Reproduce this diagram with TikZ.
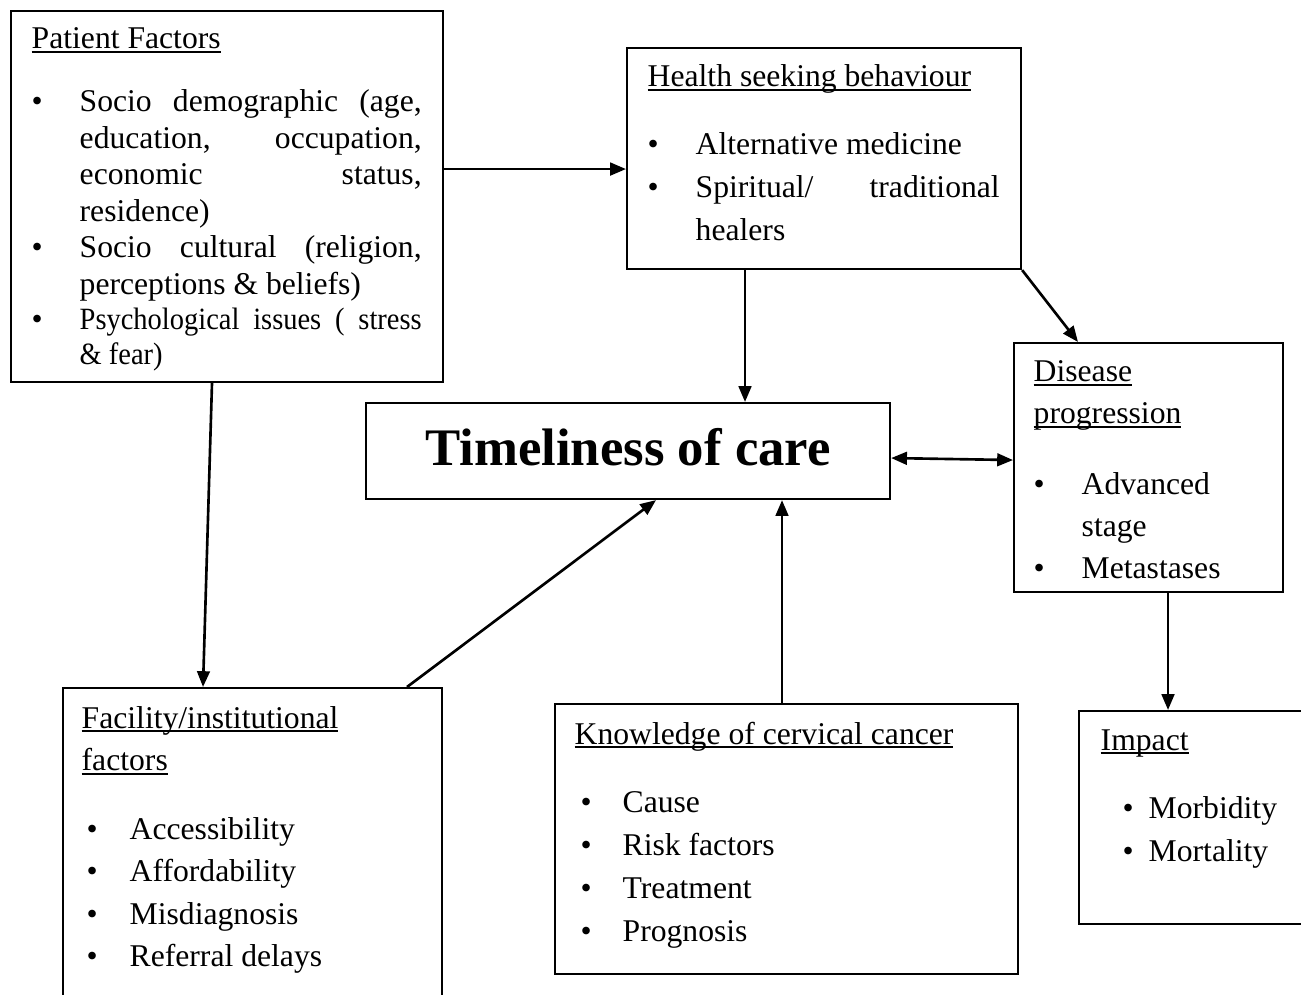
\documentclass[tikz,border=0pt]{standalone}
\usepackage{fontspec}
\setmainfont{Liberation Serif}
\newfontfamily\narrowrm[FakeStretch=0.92]{Liberation Serif}
\usepackage{tikz}
\usetikzlibrary{arrows.meta,positioning,calc}
\newlength{\px}
\setlength{\px}{0.01cm}
\newcommand{\uhd}[1]{\leavevmode\setbox0=\hbox{#1}\rlap{\rule[-1.2pt]{\wd0}{0.5pt}}\box0}
\newcommand{\bul}[1][0pt]{\par\hangindent=48\px\hangafter=1\noindent\makebox[48\px][l]{\hspace{#1}\textbullet}\ignorespaces}

\begin{document}
\begin{tikzpicture}[x=0.01cm, y=-0.01cm,
    box/.style={draw, line width=0.6pt, inner sep=0pt, anchor=north west},
    txt/.style={inner sep=0pt, anchor=base west, align=flush left, font=\fontsize{9pt}{43\px}\selectfont},
    arr/.style={-{Triangle[length=4.5pt, width=3.6pt]}, line width=0.75pt}
]
\useasboundingbox (0,0) rectangle (1301,995);
\clip (0,0) rectangle (1301,995);
\node[box, minimum width=432\px, minimum height=371\px] (pf) at (10,10) {};
\node[box, minimum width=394\px, minimum height=221\px] (hsb) at (626,47) {};
\node[box, minimum width=524\px, minimum height=96\px, text depth=8\px, font=\fontsize{15pt}{18pt}\selectfont\bfseries] (toc) at (365,402) {Timeliness of care};
\node[box, minimum width=269\px, minimum height=249\px] (dp) at (1013,342) {};
\node[box, minimum width=379\px, minimum height=330\px] (fac) at (62,687) {};
\node[box, minimum width=463\px, minimum height=270\px] (kcc) at (554,703) {};
\node[box, minimum width=240\px, minimum height=213\px] (imp) at (1078,710) {};
\node[txt, text width=390\px, align=justify, font=\fontsize{9pt}{36.5\px}\selectfont] (pf-txt) at ($(pf.north west)+(21,39)$) {\uhd{Patient Factors}\par\vspace{26.5\px}
  \bul Socio demographic (age,\linebreak education, occupation,\linebreak economic status,\linebreak residence)
  \bul Socio cultural (religion,\linebreak perceptions \& beliefs)
  \bul\narrowrm\fontsize{8.8pt}{35\px}\selectfont Psychological issues ( stress\linebreak \& fear)\par};
\node[txt, text width=352\px, align=justify] (hsb-txt) at ($(hsb.north west)+(21,40)$) {\uhd{Health seeking behaviour}\par\vspace{25\px}
  \bul Alternative medicine
  \bul Spiritual/ traditional\linebreak healers\par};
\node[txt, text width=229\px, font=\fontsize{9pt}{42\px}\selectfont] (dp-txt) at ($(dp.north west)+(20,40)$) {\uhd{Disease}\newline\uhd{progression}\par\vspace{29\px}
  \bul Advanced\newline stage
  \bul Metastases\par};
\node[txt, text width=340\px, font=\fontsize{9pt}{42.5\px}\selectfont] (fac-txt) at ($(fac.north west)+(19,41)$) {\uhd{Facility/institutional}\newline\uhd{factors}\par\vspace{26\px}
  \bul[5\px] Accessibility
  \bul[5\px] Affordability
  \bul[5\px] Misdiagnosis
  \bul[5\px] Referral delays\par};
\node[txt, text width=420\px] (kcc-txt) at ($(kcc.north west)+(20,41)$) {\uhd{Knowledge of cervical cancer}\par\vspace{25\px}
  \bul[6\px] Cause
  \bul[6\px] Risk factors
  \bul[6\px] Treatment
  \bul[6\px] Prognosis\par};
\node[txt, text width=190\px] (imp-txt) at ($(imp.north west)+(22,40)$) {\uhd{Impact}\par\vspace{25\px}
  \bul[22\px] Morbidity
  \bul[22\px] Mortality\par};
\draw[arr] ($(pf.east)+(0,-27.5)$) -- ($(hsb.west)+(0,10.5)$);
\draw[arr] ($(hsb.south west)+(119,0)$) -- ($(toc.north west)+(380,0)$);
\draw[arr] (hsb.south east) -- ($(dp.north west)+(65,0)$);
\draw[arr, {Triangle[length=4.5pt, width=3.6pt]}-{Triangle[length=4.5pt, width=3.6pt]}] ($(toc.east)+(0,7)$) -- ($(dp.west)+(0,-7.5)$);
\draw[arr] ($(pf.south west)+(202,0)$) -- ($(fac.north west)+(141,0)$);
\draw[arr] ($(fac.north west)+(345,0)$) -- ($(toc.south west)+(291,0)$);
\draw[arr] ($(kcc.north west)+(228,0)$) -- ($(toc.south west)+(417,0)$);
\draw[arr] ($(dp.south west)+(155,0)$) -- ($(imp.north west)+(90,0)$);
\end{tikzpicture}
\end{document}
